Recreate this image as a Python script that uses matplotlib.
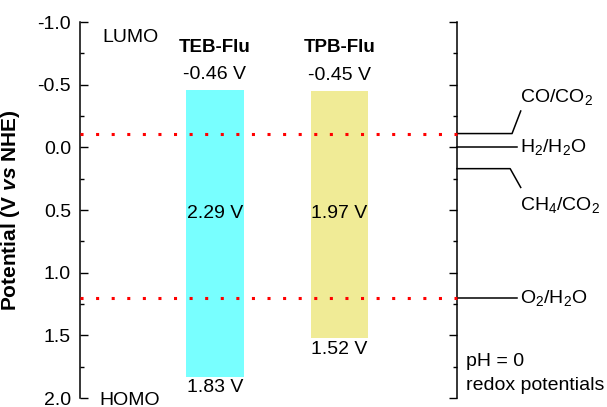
import numpy as np
import matplotlib
matplotlib.use("Agg")
import matplotlib.pyplot as plt
from matplotlib.ticker import MultipleLocator

plt.rcParams['font.family'] = ['Liberation Sans', 'DejaVu Sans']
plt.rcParams['axes.unicode_minus'] = False
plt.rcParams['mathtext.fontset'] = 'custom'
plt.rcParams['mathtext.rm'] = 'Liberation Sans'
plt.rcParams['mathtext.it'] = 'Liberation Sans:italic'
plt.rcParams['mathtext.bf'] = 'Liberation Sans:bold'
plt.rcParams['mathtext.bfit'] = 'Liberation Sans:italic:bold'

# 数据 (V vs NHE)
materials = ['TEB-Flu', 'TPB-Flu']
cb_levels = [-0.46, -0.45]   # LUMO
vb_levels = [1.83, 1.52]     # HOMO
gaps = [2.29, 1.97]
bar_colors = ['#78ffff', '#f0eb96']

couple_names = ['CO/CO$_2$', 'H$_2$/H$_2$O', 'CH$_4$/CO$_2$', 'O$_2$/H$_2$O']
couple_pot = [-0.11, 0.0, 0.17, 1.2]
ref_lines = [-0.11, 1.2]   # 红色虚线

FS = 14

fig = plt.figure(figsize=(6.07, 4.07), dpi=100)
ax = fig.add_axes([0.1318, 0.0221, 0.6211, 0.9238])

# 能带柱
centers = [0.358, 0.688]
width = 0.153
for xc, cb, vb, col in zip(centers, cb_levels, vb_levels, bar_colors):
    ax.bar(xc, vb - cb, bottom=cb, width=width, color=col, edgecolor='none', zorder=1)

for xc, name, cb, vb, eg in zip(centers, materials, cb_levels, vb_levels, gaps):
    ax.text(xc, -0.80, name, ha='center', va='center', fontsize=13.5, fontweight='bold')
    ax.text(xc, cb - 0.12, f'{cb:.2f} V', ha='center', va='center', fontsize=FS)
    ax.text(xc, 0.53, f'{eg:.2f} V', ha='center', va='center', fontsize=FS)
    ax.text(xc, vb + 0.09, f'{vb:.2f} V', ha='center', va='center', fontsize=FS)

# 红色点线
for y in ref_lines:
    ax.plot([0, 1], [y, y], color='red', lw=2.2, linestyle=(0, (1, 4.1)),
            dash_capstyle='butt', zorder=3, clip_on=False)

# 右侧氧化还原电位标注
line_ends = [1.146, 1.159, 1.141, 1.159]
label_y = [-0.40, 0.0, 0.46, 1.2]
for name, pot, xe, ly in zip(couple_names, couple_pot, line_ends, label_y):
    if ly == pot:
        ax.plot([1.0, xe], [pot, pot], color='black', lw=1.1, clip_on=False)
    else:
        yk = -0.29 if ly < pot else 0.32
        ax.plot([1.0, xe, 1.169], [pot, pot, yk], color='black', lw=1.1, clip_on=False)
    ax.text(1.167, ly, name, ha='left', va='center', fontsize=FS)

ax.text(1.024, 1.71, 'pH = 0', ha='left', va='center', fontsize=FS)
ax.text(1.024, 1.90, 'redox potentials', ha='left', va='center', fontsize=FS)

ax.text(0.133, -0.88, 'LUMO', ha='center', va='center', fontsize=FS)
ax.text(0.133, 2.02, 'HOMO', ha='center', va='center', fontsize=FS, clip_on=False)

ax.set_xlim(0, 1)
ax.set_ylim(2.0, -1.0)
ax.yaxis.set_major_locator(MultipleLocator(0.5))
ax.yaxis.set_minor_locator(MultipleLocator(0.25))
ax.set_xticks([])
ax.spines['top'].set_visible(False)
ax.spines['bottom'].set_visible(False)
for s in ['left', 'right']:
    ax.spines[s].set_linewidth(1.1)
ax.tick_params(axis='y', which='major', direction='in', length=5.5, width=1.0,
               labelsize=FS, left=True, right=True, pad=6.5)
ax.tick_params(axis='y', which='minor', direction='in', length=3, width=1.0,
               left=True, right=True)
ax.set_ylabel(r'Potential (V $\mathbfit{vs}$ NHE)', fontsize=15, fontweight='bold')
ax.yaxis.set_label_coords(-0.155, 0.5)

fig.savefig('out.png', dpi=100)
